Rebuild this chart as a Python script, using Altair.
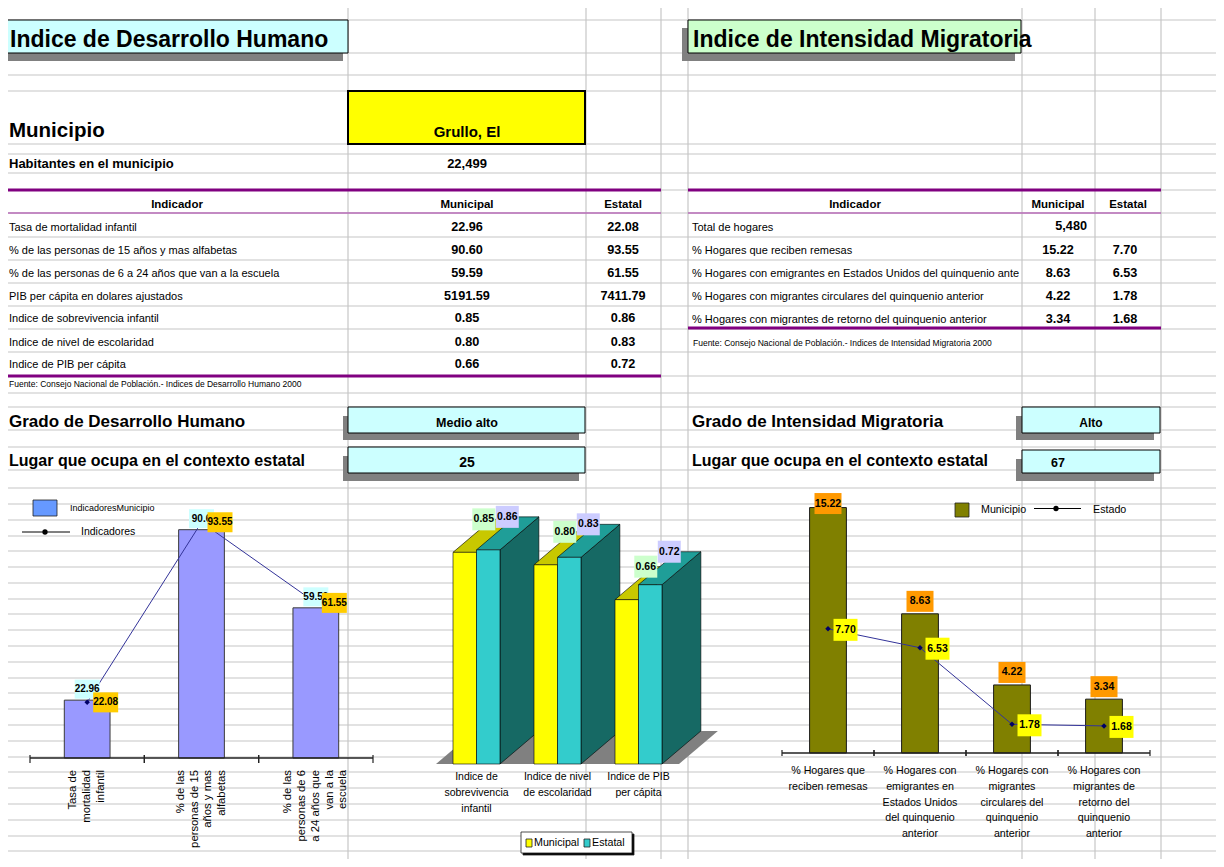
import altair as alt
import pandas as pd

# ============================ DATA ============================
IDH_TITULO = "Indice de Desarrollo Humano"
IIM_TITULO = "Indice de Intensidad Migratoria"
MUNICIPIO_ETIQ = "Municipio"
MUNICIPIO = "Grullo, El"
HABITANTES_ETIQ = "Habitantes en el municipio"
HABITANTES = 22499
ENCABEZADOS = ["Indicador", "Municipal", "Estatal"]

IDH_INDICADORES = [
    "Tasa de mortalidad infantil",
    "% de las personas de 15 años y mas alfabetas",
    "% de las personas de 6 a 24 años que van a la escuela",
    "PIB per cápita en dolares ajustados",
    "Indice de sobrevivencia infantil",
    "Indice de nivel de escolaridad",
    "Indice de PIB per cápita",
]
IDH_MUNICIPAL = [22.96, 90.60, 59.59, 5191.59, 0.85, 0.80, 0.66]
IDH_ESTATAL = [22.08, 93.55, 61.55, 7411.79, 0.86, 0.83, 0.72]
IDH_FUENTE = "Fuente: Consejo Nacional de Población.- Indices de  Desarrollo Humano  2000"
GRADO_DH_ETIQ = "Grado de Desarrollo Humano"
GRADO_DH = "Medio alto"
LUGAR_ETIQ = "Lugar que ocupa en el contexto estatal"
LUGAR_DH = 25

IIM_INDICADORES = [
    "Total de hogares",
    "% Hogares que reciben remesas",
    "% Hogares con emigrantes en Estados Unidos del quinquenio anterior",
    "% Hogares con migrantes circulares del quinquenio anterior",
    "\u00a0% Hogares con migrantes de retorno del quinquenio anterior",
]
TOTAL_HOGARES = 5480
IIM_MUNICIPAL = [15.22, 8.63, 4.22, 3.34]
IIM_ESTATAL = [7.70, 6.53, 1.78, 1.68]
IIM_FUENTE = "Fuente: Consejo Nacional de Población.- Indices de  Intensidad Migratoria 2000"
GRADO_IM_ETIQ = "Grado de Intensidad Migratoria"
GRADO_IM = "Alto"
LUGAR_IM = 67

C1_CATS = ["Tasa de|mortalidad|infantil",
           "% de las|personas de 15|años y mas|alfabetas",
           "% de las|personas de 6|a 24 años que|van a la|escuela"]
C2_CATS = ["Indice de|sobrevivencia|infantil",
           "Indice de nivel|de escolaridad",
           "Indice de PIB|per cápita"]
C3_CATS = ["% Hogares que|reciben remesas",
           "% Hogares con|emigrantes en|Estados Unidos|del quinquenio|anterior",
           "% Hogares con|migrantes|circulares del|quinquenio|anterior",
           "% Hogares con|migrantes de|retorno del|quinquenio|anterior"]
C1_SERIES = ["IndicadoresMunicipio", "Indicadores"]
C2_SERIES = ["Municipal", "Estatal"]
C3_SERIES = ["Municipio", "Estado"]

# ============================ LAYOUT (sheet pixels) ============================
W, H, M = 1208, 851, 8
FONT = "Liberation Sans, Arial, Helvetica, sans-serif"
GRID_Y = [4, 20, 53, 75, 91, 144, 154, 173, 190, 213, 237, 260, 283, 306, 329, 352,
          376, 393, 407, 430, 447, 470, 488, 504, 520, 536, 551, 567, 583, 599, 614,
          630, 646, 662, 678, 693, 709, 725, 741, 757, 772, 788, 804, 820, 836, 851]
GRID_X = [5, 348, 586, 661, 688, 1022, 1095, 1161]
LEFT_BASE = [231, 254, 277, 300, 322, 346, 368]
RIGHT_BASE = [231, 254, 277, 300, 323]
HEAD_BASE = 208

PXS = alt.Scale(domain=[M, M + W], range=[0, W], nice=False, zero=False)
PYS = alt.Scale(domain=[M, M + H], range=[0, H], nice=False, zero=False)


def px(f):
    return alt.X(f, type="quantitative", scale=PXS, axis=None)


def py(f):
    return alt.Y(f, type="quantitative", scale=PYS, axis=None)


def lin(d0, d1, p0, p1):
    return alt.Scale(domain=[d0, d1], range=[p0 - M, p1 - M], nice=False, zero=False)


def box_path(w, h):
    r = h / w
    return f"M-1,{-r:.4f}L1,{-r:.4f}L1,{r:.4f}L-1,{r:.4f}Z"


layers = []

# ---- sheet grid
hg = pd.DataFrame({"y": GRID_Y})
hg["x0"], hg["x1"] = 0, 1224
vg = pd.DataFrame({"x": GRID_X})
vg["y0"], vg["y1"] = 0, 867
layers.append(alt.Chart(hg).mark_rule(color="#C6C6C6", strokeWidth=1.2).encode(
    x=px("x0"), x2=alt.X2("x1"), y=py("y")))
layers.append(alt.Chart(vg).mark_rule(color="#C6C6C6", strokeWidth=1.2).encode(
    x=px("x"), y=py("y0"), y2=alt.Y2("y1")))

# ---- purple table rules
purple = pd.DataFrame([
    (5, 661, 190, 3, "#800080"), (688, 1161, 190, 3, "#800080"),
    (5, 661, 213, 1.5, "#B86CB8"), (688, 1161, 213, 1.5, "#B86CB8"),
    (5, 661, 376, 3, "#800080"), (688, 1161, 328, 3, "#800080"),
], columns=["x0", "x1", "y", "w", "c"])
layers.append(alt.Chart(purple).mark_rule().encode(
    x=px("x0"), x2=alt.X2("x1"), y=py("y"),
    color=alt.Color("c:N", scale=None), strokeWidth=alt.StrokeWidth("w:Q", scale=None)))

# ---- cell shadows and coloured cells
shadows = pd.DataFrame([
    (5, 343, 53, 61), (682, 1015, 28, 61), (343, 579, 416, 440), (343, 579, 456, 481),
    (1016, 1154, 416, 440), (1016, 1154, 459, 481),
], columns=["x0", "x1", "y0", "y1"])
layers.append(alt.Chart(shadows).mark_rect(color="#808080").encode(
    x=px("x0"), x2=alt.X2("x1"), y=py("y0"), y2=alt.Y2("y1")))
cells = pd.DataFrame([
    (5, 348, 20, 53, "#CCFFFF", 1), (688, 1021, 20, 53, "#CCFFCC", 1),
    (348, 585, 91, 144, "#FFFF00", 2), (348, 585, 407, 433, "#CCFFFF", 1),
    (348, 585, 447, 473, "#CCFFFF", 1), (1022, 1160, 407, 433, "#CCFFFF", 1),
    (1022, 1160, 450, 473, "#CCFFFF", 1),
], columns=["x0", "x1", "y0", "y1", "fill", "sw"])
layers.append(alt.Chart(cells).mark_rect(stroke="black").encode(
    x=px("x0"), x2=alt.X2("x1"), y=py("y0"), y2=alt.Y2("y1"),
    fill=alt.Fill("fill:N", scale=None), strokeWidth=alt.StrokeWidth("sw:Q", scale=None)))


# ---- sheet texts
def text_layer(rows, weight, align, baseline="alphabetic", **kw):
    df = pd.DataFrame(rows, columns=["t", "x", "y", "fs"])
    return alt.Chart(df).mark_text(font=FONT, fontWeight=weight, align=align,
                                   baseline=baseline, color="black", **kw).encode(
        x=px("x"), y=py("y"), text="t:N", size=alt.Size("fs:Q", scale=None))


bold_left = [
    (IDH_TITULO, 10, 46.5, 23), (IIM_TITULO, 693, 46.5, 23),
    (MUNICIPIO_ETIQ, 9, 137, 20.5), (HABITANTES_ETIQ, 9, 168, 13),
    (GRADO_DH_ETIQ, 9, 427, 17), (LUGAR_ETIQ, 9, 466, 16),
    (GRADO_IM_ETIQ, 692, 427, 17), (LUGAR_ETIQ, 692, 466, 16),
    (str(LUGAR_IM), 1051, 466.5, 12.5),
]
bold_center = [
    (MUNICIPIO, 467, 136.5, 15), (f"{HABITANTES:,}", 467, 168, 13),
    (ENCABEZADOS[0], 177, HEAD_BASE, 11.5), (ENCABEZADOS[1], 467, HEAD_BASE, 11.5),
    (ENCABEZADOS[2], 623, HEAD_BASE, 11.5),
    (ENCABEZADOS[0], 855, HEAD_BASE, 11.5), (ENCABEZADOS[1], 1058, HEAD_BASE, 11.5),
    (ENCABEZADOS[2], 1128, HEAD_BASE, 11.5),
    (GRADO_DH, 467, 426.5, 12.5), (str(LUGAR_DH), 467, 467, 14), (GRADO_IM, 1091, 426.5, 12),
]
bold_center += [(f"{v:.2f}", 467, b, 12.7) for v, b in zip(IDH_MUNICIPAL, LEFT_BASE)]
bold_center += [(f"{v:.2f}", 623, b, 12.7) for v, b in zip(IDH_ESTATAL, LEFT_BASE)]
bold_center += [(f"{v:.2f}", 1058, b, 12.7) for v, b in zip(IIM_MUNICIPAL, RIGHT_BASE[1:])]
bold_center += [(f"{v:.2f}", 1125, b, 12.7) for v, b in zip(IIM_ESTATAL, RIGHT_BASE[1:])]
bold_right = [(f"{TOTAL_HOGARES:,}", 1087, RIGHT_BASE[0] - 1, 12.7)]
reg_left = [(lab, 9, b, 11) for lab, b in zip(IDH_INDICADORES, LEFT_BASE)]
reg_left += [(IDH_FUENTE, 9, 386.5, 8.5), (IIM_FUENTE, 693, 346, 8.5)]
reg_left_lim = [(lab, 692, b, 11) for lab, b in zip(IIM_INDICADORES, RIGHT_BASE)]

layers.append(text_layer(bold_left, "bold", "left"))
layers.append(text_layer(bold_center, "bold", "center"))
layers.append(text_layer(bold_right, "bold", "right"))
layers.append(text_layer(reg_left, "normal", "left"))
layers.append(text_layer(reg_left_lim, "normal", "left", limit=330, ellipsis="\u200b"))

# ============================ CHART 1 : Indicadores ============================
c1 = pd.DataFrame({"i": list(range(len(C1_CATS))), "cat": C1_CATS,
                   "muni": IDH_MUNICIPAL[:3], "est": IDH_ESTATAL[:3]})
C1_X0, C1_X1 = 30, 373
C1X = lin(0, len(C1_CATS), C1_X0, C1_X1)
C1Y = lin(0, 100, 758, 506)
C1_LH = 13.7
C1_STEP = (C1_X1 - C1_X0) / len(C1_CATS)


def X1(f):
    return alt.X(f, type="quantitative", scale=C1X, axis=None)


def Y1(f):
    return alt.Y(f, type="quantitative", scale=C1Y, axis=None)


b1 = alt.Chart(c1).transform_calculate(
    xl="datum.i + 0.3", xr="datum.i + 0.7", xc="datum.i + 0.5", z="0",
    nl="length(split(datum.cat, '|'))",
    mt="toString(datum.muni)", et="format(datum.est, '.2f')"
).transform_calculate(lx=f"datum.xc - (datum.nl - 1) / 2 * {C1_LH} / {C1_STEP}")
layers += [
    b1.mark_rect(fill="#9999FF", stroke="#3A3A3A", strokeWidth=1).encode(
        x=X1("xl"), x2=alt.X2("xr"), y=Y1("z"), y2=alt.Y2("muni")),
    alt.Chart(c1).transform_aggregate(n="count()").transform_calculate(lo="0", z="0")
    .mark_rule(color="#222222", strokeWidth=1.3).encode(x=X1("lo"), x2=alt.X2("n"), y=Y1("z")),
    alt.Chart(c1).transform_calculate(a="datum.i", b="datum.i + 1", z="0")
    .transform_fold(["a", "b"], as_=["k", "tx"])
    .mark_tick(orient="vertical", size=8, thickness=1.2, color="#222222", opacity=1, yOffset=1)
    .encode(x=X1("tx"), y=Y1("z")),
    b1.mark_line(color="#333399", strokeWidth=1).encode(x=X1("xc"), y=Y1("est")),
    b1.mark_point(shape="diamond", filled=True, size=30, color="#000066", opacity=1).encode(
        x=X1("xc"), y=Y1("est")),
    b1.mark_point(shape=box_path(25, 19), filled=True, size=625, color="#CCFFFF",
                  opacity=1, yOffset=-11).encode(x=X1("xc"), y=Y1("muni")),
    b1.mark_text(font=FONT, fontWeight="bold", fontSize=10, baseline="middle", yOffset=-11)
    .encode(x=X1("xc"), y=Y1("muni"), text="mt:N"),
    b1.mark_point(shape=box_path(25, 20), filled=True, size=625, color="#FFCC00",
                  opacity=1, xOffset=18.5).encode(x=X1("xc"), y=Y1("est")),
    b1.mark_text(font=FONT, fontWeight="bold", fontSize=10, baseline="middle", xOffset=18.5)
    .encode(x=X1("xc"), y=Y1("est"), text="et:N"),
    b1.mark_text(font=FONT, fontSize=11.3, angle=270, align="right", baseline="middle",
                 lineBreak="|", lineHeight=C1_LH, yOffset=12)
    .encode(x=X1("lx"), y=Y1("z"), text="cat:N"),
]

# ============================ CHART 2 : Indices (3D) ============================
c2 = pd.DataFrame({"i": list(range(len(C2_CATS))), "cat": C2_CATS,
                   "muni": IDH_MUNICIPAL[4:], "est": IDH_ESTATAL[4:]})
C2X = lin(-0.5, len(C2_CATS) - 0.5, 436, 679)
C2Y = lin(0, 1, 764, 515)
BW, DX, DY = 0.29, 0.48, 0.1325


def X2c(f):
    return alt.X(f, type="quantitative", scale=C2X, axis=None)


def Y2c(f):
    return alt.Y(f, type="quantitative", scale=C2Y, axis=None)


def two_ends(ch):
    return ch.transform_calculate(t0="0", t1="1").transform_fold(["t0", "t1"], as_=["tk", "t"])


b2 = alt.Chart(c2)
floor = two_ends(b2.transform_aggregate(lo="min(i)", hi="max(i)")).transform_calculate(
    fy=f"datum.t * {DY}", fxl=f"datum.lo - 0.5 + datum.t * {DX}",
    fxr=f"datum.hi + 0.5 + datum.t * {DX}")
layers.append(floor.mark_area(orient="horizontal", color="#808080", opacity=1).encode(
    y=Y2c("fy"), x=X2c("fxl"), x2=alt.X2("fxr")))

sides = two_ends(b2).transform_calculate(
    sx=f"datum.i + {BW} + datum.t * {DX}", sy=f"datum.est + datum.t * {DY}", sb=f"datum.t * {DY}")
layers.append(sides.mark_area(orient="vertical", color="#166964", stroke="black",
                              strokeWidth=0.6, opacity=1).encode(
    x=X2c("sx"), y=Y2c("sy"), y2=alt.Y2("sb"), detail="i:N"))


def top_face(field, left, fill):
    t = two_ends(b2).transform_calculate(
        ty=f"datum.{field} + datum.t * {DY}",
        txl=f"datum.i + {left} + datum.t * {DX}",
        txr=f"datum.i + {left} + {BW} + datum.t * {DX}")
    return t.mark_area(orient="horizontal", color=fill, stroke="black", strokeWidth=0.6,
                       opacity=1).encode(y=Y2c("ty"), x=X2c("txl"), x2=alt.X2("txr"), detail="i:N")


def front_face(field, left, fill):
    t = b2.transform_calculate(l=f"datum.i + {left}", r=f"datum.i + {left} + {BW}", z="0")
    return t.mark_rect(fill=fill, stroke="black", strokeWidth=0.6).encode(
        x=X2c("l"), x2=alt.X2("r"), y=Y2c("z"), y2=alt.Y2(field))


layers += [top_face("muni", -BW, "#C8C800"), front_face("muni", -BW, "#FFFF00"),
           top_face("est", 0, "#1F9E98"), front_face("est", 0, "#33CCCC")]

lab2 = b2.transform_calculate(
    mx=f"datum.i - {BW / 2} + 0.235", my=f"datum.muni + {DY}",
    ex=f"datum.i + {BW / 2} + 0.235", ey=f"datum.est + {DY}",
    mt="format(datum.muni, '.2f')", et="format(datum.est, '.2f')", z="0")
layers += [
    lab2.mark_point(shape=box_path(23, 22), filled=True, size=529, color="#CCFFCC", opacity=1)
    .encode(x=X2c("mx"), y=Y2c("my")),
    lab2.mark_text(font=FONT, fontWeight="bold", fontSize=10.5, baseline="middle")
    .encode(x=X2c("mx"), y=Y2c("my"), text="mt:N"),
    lab2.mark_point(shape=box_path(23, 22), filled=True, size=529, color="#CCCCFF", opacity=1)
    .encode(x=X2c("ex"), y=Y2c("ey")),
    lab2.mark_text(font=FONT, fontWeight="bold", fontSize=10.5, baseline="middle")
    .encode(x=X2c("ex"), y=Y2c("ey"), text="et:N"),
    lab2.mark_text(font=FONT, fontSize=10.5, align="center", baseline="top", lineBreak="|",
                   lineHeight=16, yOffset=8).encode(x=X2c("i"), y=Y2c("z"), text="cat:N"),
]

# ============================ CHART 3 : Migracion ============================
c3 = pd.DataFrame({"i": list(range(len(C3_CATS))), "cat": C3_CATS,
                   "muni": IIM_MUNICIPAL, "est": IIM_ESTATAL})
C3_YMAX = 16
C3X = lin(0, len(C3_CATS), 782, 1150)
C3Y = lin(0, C3_YMAX, 753, 495)


def X3(f):
    return alt.X(f, type="quantitative", scale=C3X, axis=None)


def Y3(f):
    return alt.Y(f, type="quantitative", scale=C3Y, axis=None)


b3 = alt.Chart(c3).transform_calculate(
    xl="datum.i + 0.3", xr="datum.i + 0.7", xc="datum.i + 0.5", z="0",
    ly=f"min(datum.muni + 0.775, {C3_YMAX} - 0.53)",
    mt="format(datum.muni, '.2f')", et="format(datum.est, '.2f')")
layers += [
    b3.mark_rect(fill="#808000", stroke="#1A1A1A", strokeWidth=1).encode(
        x=X3("xl"), x2=alt.X2("xr"), y=Y3("z"), y2=alt.Y2("muni")),
    alt.Chart(c3).transform_aggregate(n="count()").transform_calculate(lo="0", z="0")
    .mark_rule(color="#222222", strokeWidth=1.3).encode(x=X3("lo"), x2=alt.X2("n"), y=Y3("z")),
    alt.Chart(c3).transform_calculate(a="datum.i", b="datum.i + 1", z="0")
    .transform_fold(["a", "b"], as_=["k", "tx"])
    .mark_tick(orient="vertical", size=6, thickness=1.2, color="#222222", opacity=1)
    .encode(x=X3("tx"), y=Y3("z")),
    b3.mark_point(shape=box_path(27, 21), filled=True, size=729, color="#FF9900", opacity=1)
    .encode(x=X3("xc"), y=Y3("ly")),
    b3.mark_text(font=FONT, fontWeight="bold", fontSize=10.5, baseline="middle")
    .encode(x=X3("xc"), y=Y3("ly"), text="mt:N"),
    b3.mark_line(color="#333399", strokeWidth=1).encode(x=X3("xc"), y=Y3("est")),
    b3.mark_point(shape="diamond", filled=True, size=30, color="#000066", opacity=1).encode(
        x=X3("xc"), y=Y3("est")),
    b3.mark_point(shape=box_path(24, 22), filled=True, size=576, color="#FFFF00", opacity=1,
                  xOffset=17.5, yOffset=1).encode(x=X3("xc"), y=Y3("est")),
    b3.mark_text(font=FONT, fontWeight="bold", fontSize=10.5, baseline="middle",
                 xOffset=17.5, yOffset=1).encode(x=X3("xc"), y=Y3("est"), text="et:N"),
    b3.mark_text(font=FONT, fontSize=10.7, align="center", baseline="top", lineBreak="|",
                 lineHeight=15.8, yOffset=13).encode(x=X3("xc"), y=Y3("z"), text="cat:N"),
]

# ============================ LEGENDS ============================
leg_rects = pd.DataFrame([
    (33, 57, 500, 516, "#6699FF"), (955, 969, 503, 517, "#808000"),
    (523, 634, 834, 855, "#000000"), (521, 632, 832, 853, "#FFFFFF"),
    (526, 532, 839, 847, "#FFFF00"), (584, 590, 839, 847, "#33CCCC"),
], columns=["x0", "x1", "y0", "y1", "fill"])
layers.append(alt.Chart(leg_rects).mark_rect(stroke="#222222", strokeWidth=0.8).encode(
    x=px("x0"), x2=alt.X2("x1"), y=py("y0"), y2=alt.Y2("y1"), fill=alt.Fill("fill:N", scale=None)))
leg_lines = pd.DataFrame([(22, 70, 532, 45), (1034, 1081, 508.5, 1056)],
                         columns=["x0", "x1", "y", "xm"])
layers.append(alt.Chart(leg_lines).mark_rule(color="black", strokeWidth=1).encode(
    x=px("x0"), x2=alt.X2("x1"), y=py("y")))
layers.append(alt.Chart(leg_lines).mark_point(shape="circle", filled=True, size=28,
                                              color="black", opacity=1).encode(
    x=px("xm"), y=py("y")))
leg_txt = [
    (C1_SERIES[0], 70, 508, 9), (C1_SERIES[1], 81, 532, 10.5),
    (C3_SERIES[0], 981, 509.5, 10.7), (C3_SERIES[1], 1093, 509.5, 10.7),
    (C2_SERIES[0], 534, 843, 10.7), (C2_SERIES[1], 592, 843, 10.7),
]
layers.append(text_layer(leg_txt, "normal", "left", baseline="middle"))

chart = alt.layer(*layers).resolve_scale(x="independent", y="independent").properties(
    width=W, height=H, padding=0, autosize=alt.AutoSizeParams(type="none")
).configure_view(stroke=None)

chart.save("out.html", embed_options={"renderer": "svg", "actions": False})
